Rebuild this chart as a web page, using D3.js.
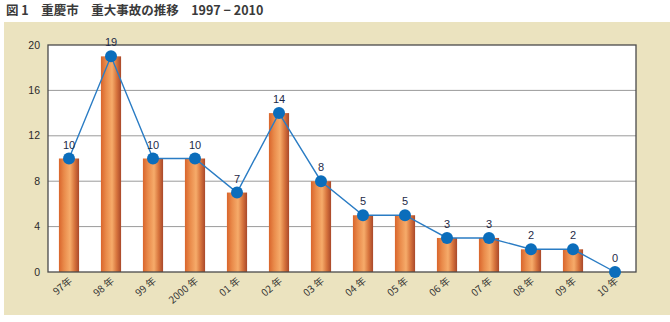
<!DOCTYPE html>
<html>
<head>
<meta charset="utf-8">
<script src="https://cdn.jsdelivr.net/npm/d3@7/dist/d3.min.js"></script>
<style>
  html, body { margin: 0; padding: 0; background: #ffffff; }
  svg { display: block; font-family: "Noto Sans CJK JP", "Liberation Sans", sans-serif; }
</style>
</head>
<body>
<svg id="chart" width="670" height="322"></svg>
<script>
// Serious accidents per year, Chongqing, 1997-2010
const years = ["97年", "98 年", "99 年", "2000 年", "01 年", "02 年", "03 年", "04 年", "05 年", "06 年", "07 年", "08 年", "09 年", "10 年"];
const accidents = [10, 19, 10, 10, 7, 14, 8, 5, 5, 3, 3, 2, 2, 0];
const yTicks = [0, 4, 8, 12, 16, 20];
const titleText = "図 1　重慶市　重大事故の推移　1997 − 2010";

const svg = d3.select("#chart");
const W = 670, H = 322;
const plot = { left: 48, right: 636, top: 45, bottom: 272 };

// background panel
svg.append("rect").attr("x", 4).attr("y", 22).attr("width", W - 4).attr("height", 293)
  .attr("fill", "#ebe3bf");

svg.append("text").attr("x", 6).attr("y", 15)
  .attr("font-size", 12.5).attr("font-weight", "bold").attr("fill", "#3a3a3a")
  .attr("font-family", "'Noto Sans CJK JP', sans-serif")
  .text(titleText);

// plot area
svg.append("rect").attr("x", plot.left).attr("y", plot.top)
  .attr("width", plot.right - plot.left).attr("height", plot.bottom - plot.top)
  .attr("fill", "#ffffff");

const x = d3.scaleBand().domain(years).range([plot.left, plot.right]).paddingInner(0.52).paddingOuter(0.26);
const y = d3.scaleLinear().domain([0, 20]).range([plot.bottom, plot.top]);

// gridlines
svg.append("g").selectAll("line").data(yTicks.filter(t => t > 0 && t < 20)).join("line")
  .attr("x1", plot.left).attr("x2", plot.right)
  .attr("y1", d => y(d)).attr("y2", d => y(d))
  .attr("stroke", "#9a9a9a").attr("stroke-width", 1);

// bar gradient
const defs = svg.append("defs");
const grad = defs.append("linearGradient").attr("id", "barGrad").attr("x1", "0").attr("x2", "1").attr("y1", "0").attr("y2", "0");
[["0%", "#d9652c"], ["25%", "#e98a4a"], ["55%", "#f6ab6a"], ["78%", "#d7743d"], ["100%", "#a9482a"]]
  .forEach(([o, c]) => grad.append("stop").attr("offset", o).attr("stop-color", c));

svg.append("g").selectAll("rect").data(accidents).join("rect")
  .attr("x", (d, i) => x(years[i]))
  .attr("width", x.bandwidth())
  .attr("y", d => y(d))
  .attr("height", d => y(0) - y(d))
  .attr("fill", "url(#barGrad)");

// plot frame
svg.append("rect").attr("x", plot.left).attr("y", plot.top)
  .attr("width", plot.right - plot.left).attr("height", plot.bottom - plot.top)
  .attr("fill", "none").attr("stroke", "#4a4a4a").attr("stroke-width", 1.3);

// y axis labels
svg.append("g").selectAll("text").data(yTicks).join("text")
  .attr("x", 40).attr("y", d => y(d)).attr("dy", "0.35em")
  .attr("text-anchor", "end").attr("font-size", 10.5).attr("fill", "#2a2a2a")
  .attr("font-family", "'Liberation Sans', Arial, sans-serif")
  .text(d => d);

// x axis labels, rotated
const cx = i => x(years[i]) + x.bandwidth() / 2;
svg.append("g").selectAll("text").data(years).join("text")
  .attr("transform", (d, i) => `translate(${cx(i) + 4},${plot.bottom + 10}) rotate(-40)`)
  .attr("text-anchor", "end").attr("font-size", 10).attr("fill", "#333")
  .text(d => d);

// trend line
const line = d3.line().x((d, i) => cx(i)).y(d => y(d));
svg.append("path").datum(accidents).attr("d", line)
  .attr("fill", "none").attr("stroke", "#2a7cc4").attr("stroke-width", 1.4);

svg.append("g").selectAll("circle").data(accidents).join("circle")
  .attr("cx", (d, i) => cx(i)).attr("cy", d => y(d)).attr("r", 6)
  .attr("fill", "#0b6dbb");

// value labels
svg.append("g").selectAll("text").data(accidents).join("text")
  .attr("x", (d, i) => cx(i)).attr("y", d => y(d) - 10)
  .attr("text-anchor", "middle").attr("font-size", 11).attr("fill", "#1e2a48")
  .attr("font-family", "'Liberation Sans', Arial, sans-serif")
  .text(d => d);
</script>
</body>
</html>
